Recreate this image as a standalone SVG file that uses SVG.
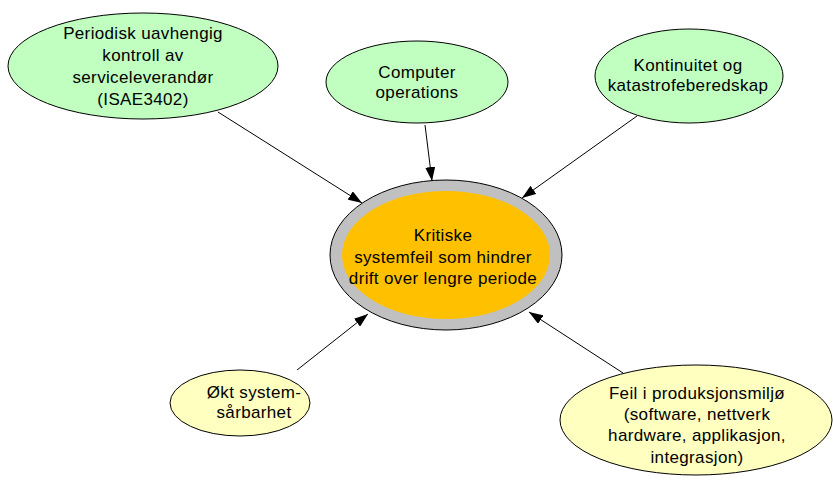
<svg xmlns="http://www.w3.org/2000/svg" width="834" height="482" viewBox="0 0 834 482">
  <style>
    .green { fill: #C0FFC0; stroke: #000; stroke-width: 1; }
    .yellow { fill: #FFFFC0; stroke: #000; stroke-width: 1; }
    .ring { fill: #C0C0C0; stroke: #000; stroke-width: 1; }
    .core { fill: #FFC000; stroke: none; }
    text { font-family: "Liberation Sans", Arial, sans-serif; font-size: 17px; letter-spacing: 0.35px; fill: #000; text-anchor: middle; }
    .edge { stroke: #000; stroke-width: 1; fill: none; marker-end: url(#arrow); }
  </style>
  <defs>
    <marker id="arrow" viewBox="0 0 14 10" refX="14" refY="5" markerWidth="14" markerHeight="10" markerUnits="userSpaceOnUse" orient="auto">
      <path d="M0,0 L14,5 L0,10 Z" fill="#000"/>
    </marker>
  </defs>

  <rect width="834" height="482" fill="#fff"/>

  <!-- connectors -->
  <g id="connectors">
    <line class="edge" x1="218" y1="112" x2="362" y2="203"/>
    <line class="edge" x1="425" y1="125" x2="432" y2="181"/>
    <line class="edge" x1="637" y1="116" x2="522" y2="198"/>
    <line class="edge" x1="297" y1="370" x2="368" y2="314"/>
    <line class="edge" x1="623" y1="373" x2="529" y2="312"/>
  </g>

  <!-- central node -->
  <g id="kritiske-systemfeil">
    <ellipse class="ring" cx="446" cy="255" rx="116" ry="75"/>
    <ellipse class="core" cx="446" cy="255" rx="104" ry="64"/>
    <text x="443" y="241">Kritiske</text>
    <text x="443" y="263">systemfeil som hindrer</text>
    <text x="443" y="284">drift over lengre periode</text>
  </g>

  <g id="periodisk-kontroll">
    <ellipse class="green" cx="143" cy="66" rx="135" ry="53"/>
    <text x="143" y="39">Periodisk uavhengig</text>
    <text x="143" y="61">kontroll av</text>
    <text x="143" y="83">serviceleverandør</text>
    <text x="143" y="105">(ISAE3402)</text>
  </g>

  <g id="computer-operations">
    <ellipse class="green" cx="417" cy="82" rx="91" ry="41"/>
    <text x="417" y="78">Computer</text>
    <text x="417" y="98">operations</text>
  </g>

  <g id="kontinuitet">
    <ellipse class="green" cx="689" cy="76" rx="94" ry="47"/>
    <text x="688" y="71">Kontinuitet og</text>
    <text x="688" y="91">katastrofeberedskap</text>
  </g>

  <g id="okt-sarbarhet">
    <ellipse class="yellow" cx="240" cy="403" rx="70" ry="33"/>
    <text x="254" y="398">Økt system-</text>
    <text x="254" y="418">sårbarhet</text>
  </g>

  <g id="feil-produksjon">
    <ellipse class="yellow" cx="696" cy="420" rx="136" ry="55"/>
    <text x="697" y="399">Feil i produksjonsmiljø</text>
    <text x="697" y="420">(software, nettverk</text>
    <text x="697" y="441">hardware, applikasjon,</text>
    <text x="697" y="463">integrasjon)</text>
  </g>
</svg>
